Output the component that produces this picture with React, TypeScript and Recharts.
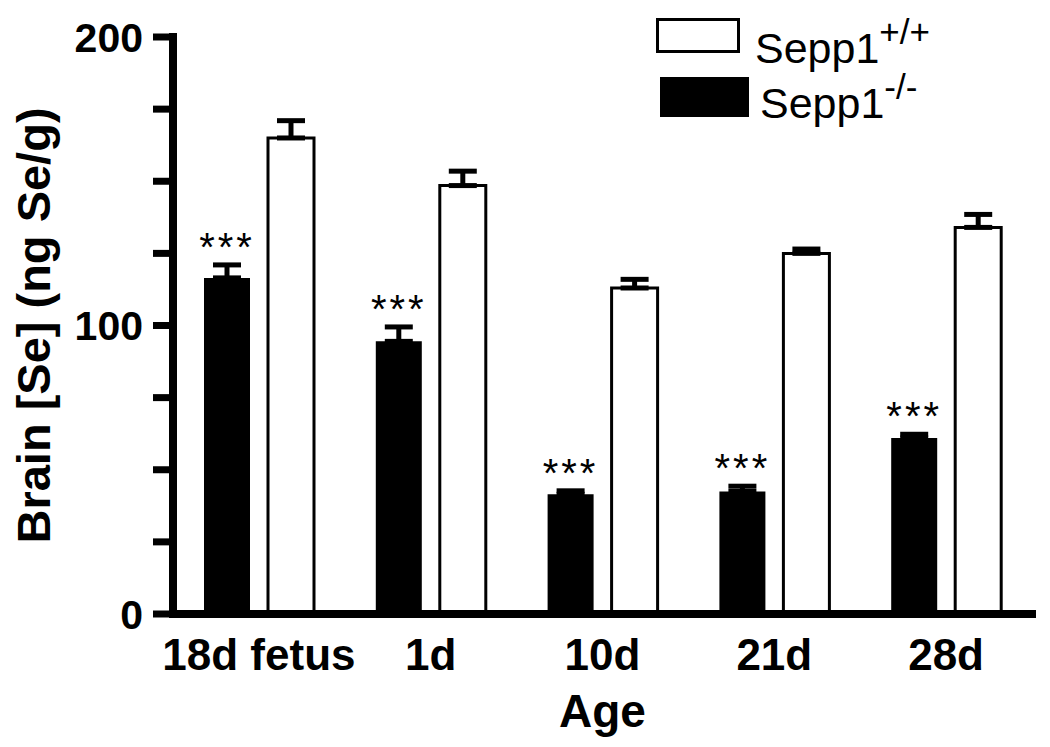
import React from 'react';
import { BarChart, Bar, XAxis, YAxis, ErrorBar, LabelList, Legend } from 'recharts';

const FONT = '"Liberation Sans", Arial, Helvetica, sans-serif';

const ages = ['18d fetus', '1d', '10d', '21d', '28d'];
const wildType = [165, 148.5, 113, 125, 134];
const wildTypeErr = [6, 5, 3, 1.5, 4.5];
const knockout = [116.5, 94.5, 41.5, 42.5, 61];
const knockoutErr = [4.5, 5, 1.2, 1.8, 1.3];
const yTicks = [0, 25, 50, 75, 100, 125, 150, 175, 200];

const data = ages.map((age, i) => ({
  age,
  ko: knockout[i],
  koErr: [0, knockoutErr[i]],
  wt: wildType[i],
  wtErr: [0, wildTypeErr[i]],
}));

function Stars(props: any) {
  const vb = props.viewBox || {};
  const x = props.x ?? vb.x;
  const y = props.y ?? vb.y;
  const width = props.width ?? vb.width;
  const height = Math.abs(props.height ?? vb.height);
  const idx = props.index ?? knockout.indexOf(props.value);
  const v = knockout[idx];
  const e = knockoutErr[idx];
  const capY = y - (height * e) / v;
  return (
    <text
      x={x + width / 2}
      y={capY - 4}
      textAnchor="middle"
      fontSize={40}
      letterSpacing={3}
      fontFamily={FONT}
      fill="#000"
    >
      ***
    </text>
  );
}

function LegendBox() {
  return (
    <svg width={400} height={130} style={{ display: 'block' }}>
      <rect x={1.5} y={11.5} width={81} height={32} fill="#fff" stroke="#000" strokeWidth={3} />
      <text x={99} y={55} fontSize={43} fontFamily={FONT} fill="#000">
        Sepp1
        <tspan fontSize={35} dy={-19}>+/+</tspan>
      </text>
      <rect x={4} y={69} width={89} height={40} fill="#000" />
      <text x={104} y={110} fontSize={43} fontFamily={FONT} fill="#000">
        Sepp1
        <tspan fontSize={35} dy={-19}>-/-</tspan>
      </text>
    </svg>
  );
}

export default function App() {
  return (
    <div style={{ width: 1042, height: 739, position: 'relative' }}>
      <BarChart
        width={1042}
        height={739}
        data={data}
        margin={{ top: 29, right: 18, bottom: 0, left: 0 }}
        barGap={18}
        barSize={46}
      >
        <XAxis
          dataKey="age"
          height={133}
          axisLine={{ stroke: '#000', strokeWidth: 8, strokeLinecap: 'square' }}
          tickLine={false}
          tickSize={0}
          tickMargin={25}
          tick={{ fontSize: 44, fontWeight: 'bold', fontFamily: FONT, fill: '#000' }}
          interval={0}
          label={{
            value: 'Age',
            position: 'insideBottom',
            offset: 20,
            style: { fontSize: 46, fontWeight: 'bold', fontFamily: FONT, fill: '#000' },
          }}
        />
        <YAxis
          width={165}
          domain={[0, 200]}
          ticks={yTicks}
          interval={0}
          allowDataOverflow
          axisLine={{ stroke: '#000', strokeWidth: 8, strokeLinecap: 'square' }}
          tickLine={{ stroke: '#000', strokeWidth: 7 }}
          tickSize={20}
          tickMargin={10}
          tickFormatter={(v: number) => (v % 100 === 0 ? String(v) : '')}
          tick={{ fontSize: 41, fontWeight: 'bold', fontFamily: FONT, fill: '#000' }}
          label={{
            value: 'Brain [Se] (ng Se/g)',
            angle: -90,
            position: 'center',
            dx: -57,
            style: { fontSize: 47, fontWeight: 'bold', fontFamily: FONT, fill: '#000', textAnchor: 'middle' },
          }}
        />
        <Legend
          layout="horizontal"
          verticalAlign="middle"
          align="center"
          wrapperStyle={{ position: 'absolute', top: 0, left: 648, width: 400, height: 130 }}
          content={() => <LegendBox />}
        />
        <Bar dataKey="ko" name="Sepp1-/-" fill="#000" isAnimationActive={false}>
          <ErrorBar dataKey="koErr" width={14} strokeWidth={5} stroke="#000" direction="y" />
          <LabelList dataKey="ko" content={(p: any) => <Stars {...p} />} />
        </Bar>
        <Bar dataKey="wt" name="Sepp1+/+" fill="#fff" stroke="#000" strokeWidth={3} isAnimationActive={false}>
          <ErrorBar dataKey="wtErr" width={14} strokeWidth={5} stroke="#000" direction="y" />
        </Bar>
      </BarChart>
    </div>
  );
}
